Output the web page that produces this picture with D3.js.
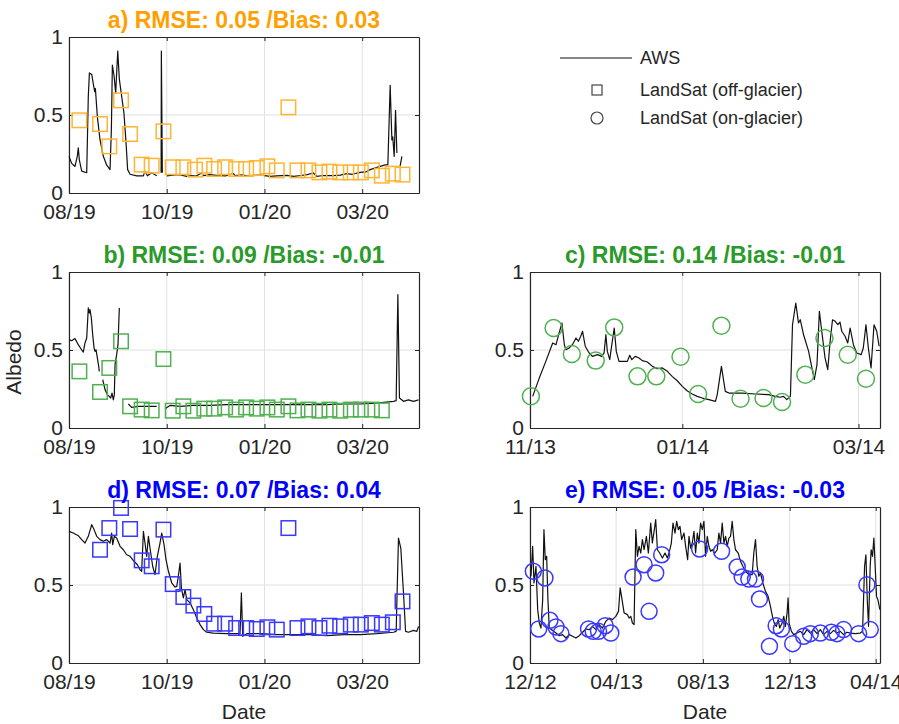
<!DOCTYPE html>
<html>
<head>
<meta charset="utf-8">
<script src="https://cdn.jsdelivr.net/npm/d3@7.9.0/dist/d3.min.js"></script>
<style>
  body { margin: 0; background: #fff; }
  svg { font-family: "Liberation Sans", Arial, Helvetica, sans-serif; }
</style>
</head>
<body>
<svg id="chart" width="899" height="724"></svg>
<script>
// ---- data: [day offset from panel start, albedo]; null = gap in AWS record ----
const awsA = [
  [0, .235], [2.2, .19], [4.9, .17], [6.8, .235], [7.6, .29], [8.5, .21], [10.4, .14], [14.5, .13],
  [15.8, .62], [16.7, .77], [18.6, .76], [19.9, .70], [21.0, .65], [21.6, .67], [23.2, .49], [25.4, .34],
  [28.1, .235], [30.8, .18], [33.6, .15], [34.7, .41], [35.5, .82], [36.9, .75], [38.2, .64], [39.9, .91],
  [41.2, .73], [43.1, .62], [45.0, .51], [46.7, .32], [48.0, .15], [50.0, .12], [55.4, .11], [60.9, .11],
  [62.2, .14], [64.2, .11], [67.7, .13], [71.8, .11], [73, null], [75.4, .13], [75.6, .91], [76.4, .13],
  [78, null], [80, .11], [88.2, .118], [92, .115], [96.4, .107], [100, .112], [104, .109], [108.7, .128],
  [110, .111], [115, .118], [121, .113], [128, .11], [134.6, .124], [136, .111], [142, .116], [146, .109],
  [151, .113], [157, .115], [164.6, .107], [170, .11], [178.3, .113], [183.7, .107], [190, .112],
  [195, .118], [200, .128], [202.8, .107], [208, .112], [216.5, .111], [222, .115], [227.4, .124],
  [232, .12], [238.3, .132], [243, .135], [246.5, .15], [254.7, .171], [258.8, .18], [261, .18],
  [262.9, .69], [264.3, .34], [265, .36], [266.2, .235], [267.3, .53], [268.4, .256], [269.5, null],
  [271, .17], [272.5, .235]
];
const sqA = [
  [8.5, .466], [25.4, .442], [33.0, .299], [42.6, .594], [50.0, .378], [59.5, .182], [67.7, .175],
  [77.3, .395], [84.9, .165], [93.6, .165], [103.2, .15], [110.8, .175], [118.8, .154], [127.8, .165],
  [136.8, .154], [145.0, .154], [153.7, .16], [162.4, .171], [170.1, .145], [179.6, .549], [187.0, .145],
  [196.0, .145], [205.0, .132], [213.2, .137], [222.0, .132], [230.7, .132], [238.9, .132], [247.9, .145],
  [256.1, .111], [265.1, .124], [273.0, .118]
];

const awsB = [
  [0, .566], [2.2, .56], [4.9, .573], [7.6, .534], [10.4, .50], [11.7, .487], [13.1, .545], [14.5, .577],
  [15.8, .77], [16.7, .737], [17.2, .759], [18.3, .705], [19.4, .598], [20.5, .513], [21.3, .491],
  [22.1, .502], [23.2, .449], [24.3, .395], [24.8, .363], [26, null], [27.6, .31], [29.5, .246],
  [31.4, .214], [33, .203], [34.1, .192], [35.2, .224], [36.3, .18], [37.1, .214], [37.7, .406],
  [39, .47], [40.1, .534], [41.2, .77], [45, null], [48.6, .154], [51.3, .132], [56.8, .139],
  [63.6, .139], [71.8, .139], [75, null], [78.6, .124], [82.7, .145], [90.9, .139], [101.8, .145],
  [115.5, .145], [129.1, .15], [142.8, .15], [156.4, .15], [170.1, .15], [183.7, .15], [197.4, .15],
  [211, .15], [224.7, .154], [238.3, .154], [252, .16], [265.6, .171], [267.8, .175], [269.2, .855],
  [270.5, .192], [273.8, .171], [277.9, .18], [282, .171], [286.1, .18]
];
const sqB = [
  [8.5, .363], [25.4, .231], [33.0, .385], [42.6, .556], [50.0, .139], [59.5, .118], [67.7, .113],
  [77.3, .442], [84.9, .111], [93.6, .139], [101.8, .111], [110.8, .124], [118.8, .124], [127.8, .132],
  [136.8, .118], [145.0, .132], [153.7, .124], [162.4, .132], [170.1, .118], [179.6, .139], [187.0, .113],
  [196.0, .118], [205.0, .111], [213.2, .118], [222.0, .111], [230.7, .118], [238.9, .118], [247.9, .118],
  [256.1, .113]
];

const awsC = [
  [0.9, .203], [3.1, .32], [5.3, .427], [7.6, .545], [8.7, .534], [9.6, .598], [10.7, .673], [11.5, .534],
  [12, .502], [13.1, .513], [14.2, .534], [15.4, .577], [16.2, .556], [17, .588], [17.6, .62], [18.5, .524],
  [19.8, .481], [20.9, .459], [22.6, .47], [24, .459], [24.8, .481], [25.4, .598], [25.9, .491],
  [26.7, .438], [27.4, .534], [28.2, .641], [28.9, .491], [29.8, .427], [30.9, .427], [32.6, .427],
  [33.4, .466], [34.1, .438], [35.2, .459], [36.5, .449], [37.6, .432], [39.3, .423], [41, .395],
  [42.6, .38], [44.3, .385], [46, .363], [47.6, .331], [49.3, .303], [51, .267], [52.6, .239],
  [54.3, .218], [56, .203], [57.7, .192], [59.9, .182], [62.1, .171], [62.7, .214], [64.1, .395],
  [65.4, .235], [66.6, .224], [71, .224], [75.5, .218], [79.9, .214], [82.1, .203], [83.8, .197],
  [84.9, .203], [86, .182], [87.2, .203], [87.9, .662], [89, .801], [89.9, .673], [90.5, .694],
  [91.6, .598], [93.3, .491], [94.4, .385], [95.2, .31], [96.1, .406], [96.9, .748], [97.7, .62],
  [98.8, .449], [99.7, .374], [100.5, .556], [101.3, .694], [102.2, .684], [103.1, .662], [103.8, .679],
  [104.4, .62], [105.5, .588], [106.4, .545], [107.2, .641], [108.3, .534], [109.4, .481], [110.9, .47],
  [111.6, .513], [112.5, .662], [113.3, .513], [114.2, .385], [115.2, .662], [116.1, .62], [116.9, .524]
];
const circC = [
  [0.3, .203], [7.9, .641], [14, .474], [22, .432], [28.2, .645], [36, .331], [42.3, .331], [50.4, .457],
  [56.3, .218], [64.1, .656], [70.5, .188], [78.2, .192], [84.4, .167], [92.2, .342], [98.6, .577],
  [106.4, .47], [112.5, .316]
];

const awsD = [
  [0, .844], [3.5, .833], [7.6, .816], [10.4, .791], [13.1, .769], [15.8, .812], [18.6, .887], [20.5, .855],
  [22.7, .812], [25.4, .791], [28.1, .78], [30.8, .791], [33.6, .769], [34.9, .833], [35.8, .759],
  [37.1, .812], [39, .801], [41.8, .748], [44.5, .726], [47.2, .694], [50, .684], [53.2, .652], [56, .63],
  [58.1, .598], [59.5, .588], [60.9, .844], [62.2, .769], [63.6, .684], [65, .812], [66.3, .737],
  [68.5, .62], [70.4, .566], [72.3, .684], [74.5, .769], [75.9, .833], [77.8, .759], [79.4, .662],
  [81.4, .588], [84.1, .513], [86.8, .487], [88.2, .491], [89.5, .556], [90.9, .641], [92, .481],
  [93.6, .417], [95, .47], [96.4, .406], [99.1, .385], [101.8, .342], [104.6, .288], [107.3, .246],
  [110, .214], [112.7, .197], [118.2, .192], [129.1, .188], [140, .188], [141.1, .449], [142.2, .171],
  [145.5, .188], [156.4, .188], [170.1, .182], [183.7, .182], [197.4, .182], [211, .175], [224.7, .182],
  [238.3, .182], [252, .188], [265.6, .197], [267.8, .203], [269.7, .801], [271.6, .737], [273.8, .449],
  [275.5, .203], [277.9, .197], [282, .209], [284.7, .203], [286.1, .235]
];
const sqD = [
  [25.4, .726], [33, .865], [42.6, .994], [50, .859], [59.5, .658], [67.7, .62], [77.3, .855], [84.9, .506],
  [93.6, .423], [101.8, .368], [110.8, .314], [118.8, .252], [127.8, .252], [136.8, .224], [145, .224],
  [153.7, .218], [162.4, .229], [170.1, .214], [179.6, .865], [187, .224], [196, .235], [205, .224],
  [213.2, .239], [222, .235], [230.7, .246], [238.9, .246], [247.9, .256], [256.1, .246], [265.1, .261],
  [273, .395]
];

const awsE = [
  [1.4, .556], [3.7, .748], [5.6, .513], [8.4, .62], [10.8, .342], [13.1, .256], [15.4, .224], [17.8, .406],
  [19.6, .855], [21.5, .662], [23.4, .684], [25.2, .406], [27.1, .224], [31.8, .209], [36.5, .192],
  [41.1, .175], [45.8, .182], [50.5, .16], [55.2, .182], [59.8, .171], [64.5, .16], [69.2, .175],
  [73.9, .197], [78.5, .218], [83.2, .214], [87.9, .235], [92.6, .214], [97.2, .246], [101.9, .224],
  [106.6, .267], [111.3, .288], [115.9, .278], [120.6, .299], [124.4, .331], [126.7, .481], [129, .417],
  [132.3, .321], [137, .31], [139.3, .288], [141.7, .299], [144, .256], [146.3, .246], [148.7, .855],
  [151, .684], [153.3, .748], [155.7, .705], [158, .791], [160.4, .726], [163.6, .812], [166.4, .705],
  [169.7, .897], [172, .769], [174.4, .844], [176.7, .919], [179.1, .726], [182.3, .705], [186.1, .673],
  [189.8, .705], [193.1, .673], [195.4, .705], [198.7, .769], [201, .897], [203.8, .833], [206.2, .908],
  [208.5, .855], [210.8, .876], [213.2, .791], [216.5, .833], [218.8, .748], [221.6, .662], [223.5, .812],
  [225.8, .737], [228.1, .769], [230.5, .844], [232.8, .705], [235.2, .833], [237.5, .769], [239.8, .897],
  [242.2, .855], [244.5, .908], [246.8, .684], [249.2, .812], [251.5, .748], [253.9, .716], [256.2, .726],
  [259.9, .705], [263.2, .726], [265.5, .833], [267.9, .769], [270.2, .897], [272.6, .769], [274.9, .812],
  [277.2, .748], [279.6, .801], [281.9, .812], [284.2, .908], [286.6, .791], [288.9, .726], [292.7, .705],
  [295.9, .652], [299.2, .62], [302.9, .588], [307.6, .566], [312.3, .566], [314.6, .705], [317, .791],
  [319.3, .62], [321.6, .556], [324, .577], [327.3, .513], [331, .459], [334.7, .427], [338, .363],
  [341.3, .288], [344.1, .246], [346.4, .235], [348.8, .278], [351.1, .224], [354.4, .256], [356.7, .299],
  [359, .235], [361.4, .321], [362.8, .417], [364.2, .256], [367.5, .203], [370.7, .182], [375.4, .192],
  [380.1, .203], [384.8, .182], [389.4, .214], [394.1, .192], [398.8, .214], [403.5, .188], [408.1, .214],
  [412.8, .182], [417.5, .203], [422.1, .188], [426.8, .209], [431.5, .192], [436.2, .203], [440.8, .182],
  [445.5, .197], [450.2, .192], [457.2, .188], [464.2, .192], [467.5, .203], [470.3, .62], [472.2, .694],
  [474.1, .406], [475.9, .235], [478.2, .62], [479.6, .726], [481.5, .684], [483.4, .801], [485.2, .62],
  [487.1, .427], [489, .406], [491.8, .342]
];
const circE = [
  [4.7, .588], [12.2, .218], [21, .545], [28, .274], [36.5, .231], [43.5, .188], [82.3, .218], [88.8, .203],
  [96.3, .203], [105.7, .239], [113.6, .192], [144.9, .551], [160.4, .63], [167.4, .331], [176.7, .577],
  [185.1, .694], [238.4, .731], [269.3, .716], [291.3, .615], [298.3, .551], [307.6, .538], [317, .538],
  [322.6, .41], [336.6, .107], [346, .239], [353.4, .218], [369.3, .124], [384.7, .171], [394.1, .188],
  [408.1, .192], [423.6, .197], [431.5, .188], [440.8, .214], [461.9, .188], [473.6, .502], [478.3, .214]
];

// time axes: panel start, end (days) and tick dates
const startSummer19 = '2019-08-01', endSummer19 = 286.5;
const ticksSummer19 = ['2019-08-01', '2019-10-20', '2020-01-08', '2020-03-28'];
const startC = '2013-11-11', endC = 117.2;
const ticksC = ['2013-11-11', '2014-01-01', '2014-03-01'];
const startE = '2012-12-01', endE = 492;
const ticksE = ['2012-12-01', '2013-04-01', '2013-08-01', '2013-12-01', '2014-04-01'];

const titles = [
  'a) RMSE: 0.05 /Bias: 0.03', 'b) RMSE: 0.09 /Bias: -0.01', 'c) RMSE: 0.14 /Bias: -0.01',
  'd) RMSE: 0.07 /Bias: 0.04', 'e) RMSE: 0.05 /Bias: -0.03'
];
const legendLabels = ['AWS', 'LandSat (off-glacier)', 'LandSat (on-glacier)'];

const ORANGE = { title: '#FFA000', mark: '#FFB533' };
const GREEN = { title: '#2A9A2A', mark: '#4FB04F' };
const BLUE = { title: '#0000FF', mark: '#3838FF' };
const INK = '#262626';

const panels = [
  { title: titles[0], aws: awsA, obs: sqA, marker: 'square', color: ORANGE, start: startSummer19, end: endSummer19, ticks: ticksSummer19, box: [69, 419, 37, 193] },
  { title: titles[1], aws: awsB, obs: sqB, marker: 'square', color: GREEN, start: startSummer19, end: endSummer19, ticks: ticksSummer19, box: [69, 419, 272, 428], ylabel: 'Albedo' },
  { title: titles[2], aws: awsC, obs: circC, marker: 'circle', color: GREEN, start: startC, end: endC, ticks: ticksC, box: [530, 880, 272, 428] },
  { title: titles[3], aws: awsD, obs: sqD, marker: 'square', color: BLUE, start: startSummer19, end: endSummer19, ticks: ticksSummer19, box: [69, 419, 507, 663], xlabel: 'Date' },
  { title: titles[4], aws: awsE, obs: circE, marker: 'circle', color: BLUE, start: startE, end: endE, ticks: ticksE, box: [530, 880, 507, 663], xlabel: 'Date' }
];

const svg = d3.select('#chart');
const DAY = 864e5;
const fmt = d3.utcFormat('%m/%y');

function drawPanel(p) {
  const [left, right, top, bottom] = p.box;
  const t0 = new Date(p.start);
  const toDate = (d) => new Date(t0.getTime() + d * DAY);

  const x = d3.scaleUtc().domain([t0, toDate(p.end)]).range([left, right]);
  const y = d3.scaleLinear().domain([0, 1]).range([bottom, top]);
  const tickDates = p.ticks.map((s) => new Date(s));

  const g = svg.append('g');

  // grid
  g.append('g')
    .selectAll('line')
    .data(tickDates)
    .join('line')
    .attr('x1', (d) => x(d)).attr('x2', (d) => x(d))
    .attr('y1', top).attr('y2', bottom)
    .attr('stroke', '#e0e0e0');
  g.append('g')
    .selectAll('line')
    .data([0.5])
    .join('line')
    .attr('x1', left).attr('x2', right)
    .attr('y1', (d) => y(d)).attr('y2', (d) => y(d))
    .attr('stroke', '#e0e0e0');

  // axes, MATLAB-style box with inward ticks
  const styleAxis = (sel) => {
    sel.selectAll('path, line').attr('stroke', INK);
    sel.selectAll('text').attr('fill', INK).style('font-size', '21px');
  };
  g.append('g')
    .attr('transform', `translate(0,${bottom})`)
    .call(d3.axisBottom(x).tickValues(tickDates).tickFormat(fmt).tickSizeInner(-4).tickSizeOuter(0).tickPadding(11))
    .call(styleAxis);
  g.append('g')
    .attr('transform', `translate(0,${top})`)
    .call(d3.axisTop(x).tickValues(tickDates).tickFormat('').tickSizeInner(-4).tickSizeOuter(0))
    .call(styleAxis);
  g.append('g')
    .attr('transform', `translate(${left},0)`)
    .call(d3.axisLeft(y).tickValues([0, 0.5, 1]).tickFormat(d3.format('~g')).tickSizeInner(-4).tickSizeOuter(0).tickPadding(6))
    .call(styleAxis);
  g.append('g')
    .attr('transform', `translate(${right},0)`)
    .call(d3.axisRight(y).tickValues([0, 0.5, 1]).tickFormat('').tickSizeInner(-4).tickSizeOuter(0))
    .call(styleAxis);
  g.selectAll('.domain').attr('stroke-width', 1.2);

  // AWS line
  const line = d3.line()
    .defined((d) => d[1] !== null)
    .x((d) => x(toDate(d[0])))
    .y((d) => y(d[1]));
  g.append('path')
    .datum(p.aws)
    .attr('d', line)
    .attr('fill', 'none')
    .attr('stroke', '#111')
    .attr('stroke-width', 1.2)
    .attr('stroke-linejoin', 'round');

  // LandSat observations
  const obs = g.append('g')
    .attr('fill', 'none')
    .attr('stroke', p.color.mark)
    .attr('stroke-width', 1.5);
  if (p.marker === 'square') {
    const s = 14.5;
    obs.selectAll('rect')
      .data(p.obs)
      .join('rect')
      .attr('x', (d) => x(toDate(d[0])) - s / 2)
      .attr('y', (d) => y(d[1]) - s / 2)
      .attr('width', s).attr('height', s);
  } else {
    obs.selectAll('circle')
      .data(p.obs)
      .join('circle')
      .attr('cx', (d) => x(toDate(d[0])))
      .attr('cy', (d) => y(d[1]))
      .attr('r', p === panels[2] ? 8.5 : 8);
  }

  // title
  g.append('text')
    .attr('x', (left + right) / 2)
    .attr('y', top - 9)
    .attr('text-anchor', 'middle')
    .attr('fill', p.color.title)
    .style('font-size', '23px')
    .style('font-weight', 'bold')
    .text(p.title);

  if (p.xlabel) {
    g.append('text')
      .attr('x', (left + right) / 2)
      .attr('y', bottom + 56)
      .attr('text-anchor', 'middle')
      .attr('fill', INK)
      .style('font-size', '21px')
      .text(p.xlabel);
  }
  if (p.ylabel) {
    g.append('text')
      .attr('transform', `translate(21,${(top + bottom) / 2 + 12}) rotate(-90)`)
      .attr('text-anchor', 'middle')
      .attr('fill', INK)
      .style('font-size', '21px')
      .text(p.ylabel);
  }
}

panels.forEach(drawPanel);

// legend
const leg = svg.append('g');
const legRows = [58, 90, 118];
leg.append('line').attr('x1', 560).attr('x2', 632).attr('y1', legRows[0]).attr('y2', legRows[0])
  .attr('stroke', '#111').attr('stroke-width', 1.2);
leg.append('rect').attr('x', 592).attr('y', legRows[1] - 5).attr('width', 10).attr('height', 10)
  .attr('fill', 'none').attr('stroke', '#444').attr('stroke-width', 1.2);
leg.append('circle').attr('cx', 597).attr('cy', legRows[2]).attr('r', 6)
  .attr('fill', 'none').attr('stroke', '#444').attr('stroke-width', 1.2);
leg.selectAll('text')
  .data(legendLabels)
  .join('text')
  .attr('x', 640)
  .attr('y', (d, i) => legRows[i])
  .attr('dy', '0.35em')
  .attr('fill', INK)
  .style('font-size', '18px')
  .text((d) => d);
</script>
</body>
</html>
